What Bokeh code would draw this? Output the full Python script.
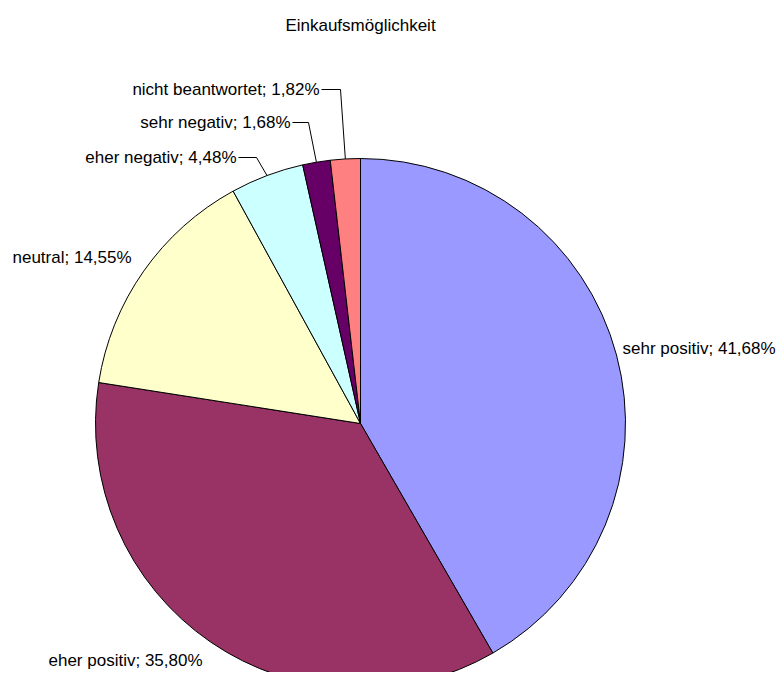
import math
from bokeh.plotting import figure
from bokeh.models import Range1d, ColumnDataSource
from bokeh.core.properties import value
from bokeh.embed import file_html
from bokeh.resources import INLINE

# ---- data ----
title = "Einkaufsmöglichkeit"
categories = ["sehr positiv", "eher positiv", "neutral", "eher negativ", "sehr negativ", "nicht beantwortet"]
values = [41.68, 35.80, 14.55, 4.48, 1.68, 1.82]
colors = ["#9999FF", "#993366", "#FFFFCC", "#CCFFFF", "#660066", "#FF8080"]

# ---- layout (pixels, figure origin top-left) ----
CX, CY, R = 360, 423, 265
W, H = 776, 672
FONT = value("Liberation Sans")
FS = "17px"
# label anchor per category: (x, y, align, leader_elbow_x or None)
label_layout = [
    (622, 348, "left", None),
    (48, 660, "left", None),
    (12, 257, "left", None),
    (236, 157, "right", 256),
    (290, 122, "right", 308),
    (319, 89, "right", 340),
]

def to_data(x, y):
    return (x - CX) / R, (CY - y) / R

p = figure(width=W, height=H, output_backend="svg", toolbar_location=None,
           x_axis_type=None, y_axis_type=None, min_border=0,
           x_range=Range1d((0 - CX) / R, (W - CX) / R),
           y_range=Range1d((CY - H) / R, (CY - 0) / R))
p.grid.visible = False
p.outline_line_color = None
p.background_fill_color = "white"
p.border_fill_color = "white"

total = sum(values)
starts, ends, mids = [], [], []
cum = 0.0
for v in values:
    a0 = math.pi / 2 - 2 * math.pi * cum / total
    cum += v
    a1 = math.pi / 2 - 2 * math.pi * cum / total
    starts.append(a0)
    ends.append(a1)
    mids.append((a0 + a1) / 2)

src = ColumnDataSource(dict(start=starts, end=ends, color=colors, cat=categories))
p.wedge(x=0, y=0, radius=1, start_angle="start", end_angle="end", direction="clock",
        fill_color="color", line_color="black", line_width=1, source=src)

# labels
lx, ly, lt, la = [], [], [], []
lead_xs, lead_ys = [], []
for cat, v, mid, (x, y, align, elbow) in zip(categories, values, mids, label_layout):
    txt = f"{cat}; " + f"{v:.2f}".replace(".", ",") + "%"
    dx, dy = to_data(x, y)
    lx.append(dx); ly.append(dy); lt.append(txt); la.append(align)
    if elbow is not None:
        ex, ey = to_data(elbow, y)
        px, py = math.cos(mid), math.sin(mid)
        lead_xs.append([dx + 2 / R, ex, px])
        lead_ys.append([dy, ey, py])

for align in ("left", "right"):
    idx = [i for i, a in enumerate(la) if a == align]
    p.text(x=[lx[i] for i in idx], y=[ly[i] for i in idx], text=[lt[i] for i in idx],
           text_font=FONT, text_font_size=FS, text_color="black",
           text_align=align, text_baseline="middle")

p.multi_line(xs=lead_xs, ys=lead_ys, line_color="black", line_width=1)

tx, ty = to_data(360, 25)
p.text(x=[tx], y=[ty], text=[title], text_font=FONT, text_font_size=FS,
       text_color="black", text_align="center", text_baseline="middle")

open("out.html", "w").write(file_html(p, INLINE))
